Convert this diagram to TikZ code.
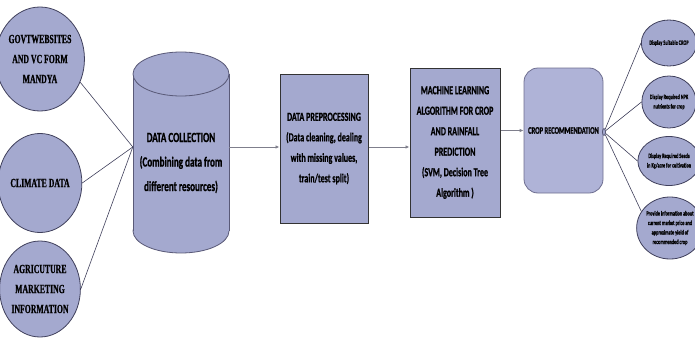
\documentclass[tikz,border=0pt]{standalone}
\usepackage{fontspec}
\usetikzlibrary{shapes.geometric,arrows.meta}
\newfontfamily\calf{Carlito Bold}[FakeStretch=0.65,FakeBold=0.8]
\newfontfamily\tmsf{Liberation Serif Bold}[FakeStretch=0.62,FakeBold=0.8]
\definecolor{fillc}{HTML}{A4A9CF}
\definecolor{edgec}{HTML}{40405C}
\definecolor{arrc}{HTML}{7F7F8C}
\definecolor{cropfill}{HTML}{AFB3D7}
\definecolor{cropedge}{HTML}{6E6E90}
\definecolor{cyledge}{HTML}{5A5A78}
\begin{document}
\begin{tikzpicture}[x=1pt,y=-1pt,
 src/.style={ellipse, draw=edgec, fill=fillc, line width=0.8pt, inner sep=0pt, align=center, font=\tmsf\fontsize{12.5}{20}\selectfont},
 stepbox/.style={rectangle, draw=black!80, fill=fillc, line width=1pt, inner sep=0pt, align=center, font=\calf\fontsize{12.3}{20.5}\selectfont},
 outc/.style={ellipse, draw=edgec, fill=fillc, line width=0.8pt, inner sep=0pt, align=center, font=\calf\fontsize{6.6}{9.5}\selectfont},
 link/.style={draw=edgec, line width=0.6pt},
 flow/.style={draw=arrc, line width=0.9pt, -{Latex[length=4pt,width=3.5pt]}},
 cylpart/.style={draw=cyledge, fill=fillc, line width=0.8pt},
]
\useasboundingbox (0,0) rectangle (695,337);

% left source ellipses
\node[src, minimum width=63pt, minimum height=104pt] (e1) at (40,59) {GOVTWEBSITES\\AND VC FORM\\MANDYA};
\node[src, minimum width=63pt, minimum height=99pt] (e2) at (40,183) {CLIMATE DATA};
\node[src, minimum width=63pt, minimum height=96pt] (e3) at (40,289) {AGRICUTURE\\MARKETING\\INFORMATION};

% cylinder (data collection)
\filldraw[cylpart] (181,231) ellipse (48 and 22);
\fill[fillc] (133,74) rectangle (229,231);
\draw[cyledge, line width=0.8pt] (133,74) -- (133,231);
\draw[cyledge, line width=0.8pt] (229,74) -- (229,231);
\filldraw[cylpart] (181,74) ellipse (48 and 22);
\node[minimum width=96pt, minimum height=10pt, inner sep=0pt] (cyl) at (181,147) {};
\node[align=center, inner sep=0pt, font=\calf\fontsize{14}{24.5}\selectfont] (cyltext) at (181,163) {DATA COLLECTION\\(Combining data from\\different resources)};

% steps
\node[stepbox, minimum width=88pt, minimum height=149pt] (pre) at (324,148.5) {DATA PREPROCESSING\\(Data cleaning, dealing\\with missing values,\\train/test split)};
\node[stepbox, minimum width=90pt, minimum height=149pt] (ml) at (455,142.5) {MACHINE LEARNING\\ALGORITHM FOR CROP\\AND RAINFALL\\PREDICTION\\(SVM, Decision Tree\\Algorithm )};
\node[rectangle, rounded corners=14pt, draw=cropedge, fill=cropfill, line width=0.8pt, minimum width=79pt, minimum height=125pt, inner sep=0pt, font=\calf\fontsize{10}{12}\selectfont] (crop) at (563.5,130.5) {CROP RECOMMENDATION};

% hub
\node[ellipse, draw=edgec, fill=fillc, line width=0.6pt, minimum width=3pt, minimum height=7pt, inner sep=0pt] (hub) at (604,132) {};

% outputs
\node[outc, minimum width=44pt, minimum height=46pt] (c1) at (669,43) {Display Suitable CROP};
\node[outc, minimum width=44pt, minimum height=52pt] (c2) at (669,102) {Display Required NPK\\nutrients for crop};
\node[outc, minimum width=44pt, minimum height=49pt] (c3) at (669,161) {Display Required Seeds\\in Kg/acre for cultivation};
\node[outc, minimum width=47pt, minimum height=62pt] (c4) at (670,228) {Provide information about\\current market price and\\approximate yield of\\recommended crop};

% links
\draw[link] (e1.-30) -- (cyl.west);
\draw[link] (e2.east) -- (cyl.west);
\draw[link] (e3.east) -- (cyl.west);

\draw[flow] (cyl.east) -- (pre.west |- cyl.east);
\draw[flow] (pre.east |- cyl.east) -- (ml.west |- cyl.east);
\draw[flow] (ml.east |- crop.west) -- (crop.west);

\draw[link] (hub) -- (c1.west);
\draw[link] (hub) -- (c2.west);
\draw[link] (hub) -- (c3.west);
\draw[link] (hub) -- (c4.150);
\end{tikzpicture}
\end{document}
